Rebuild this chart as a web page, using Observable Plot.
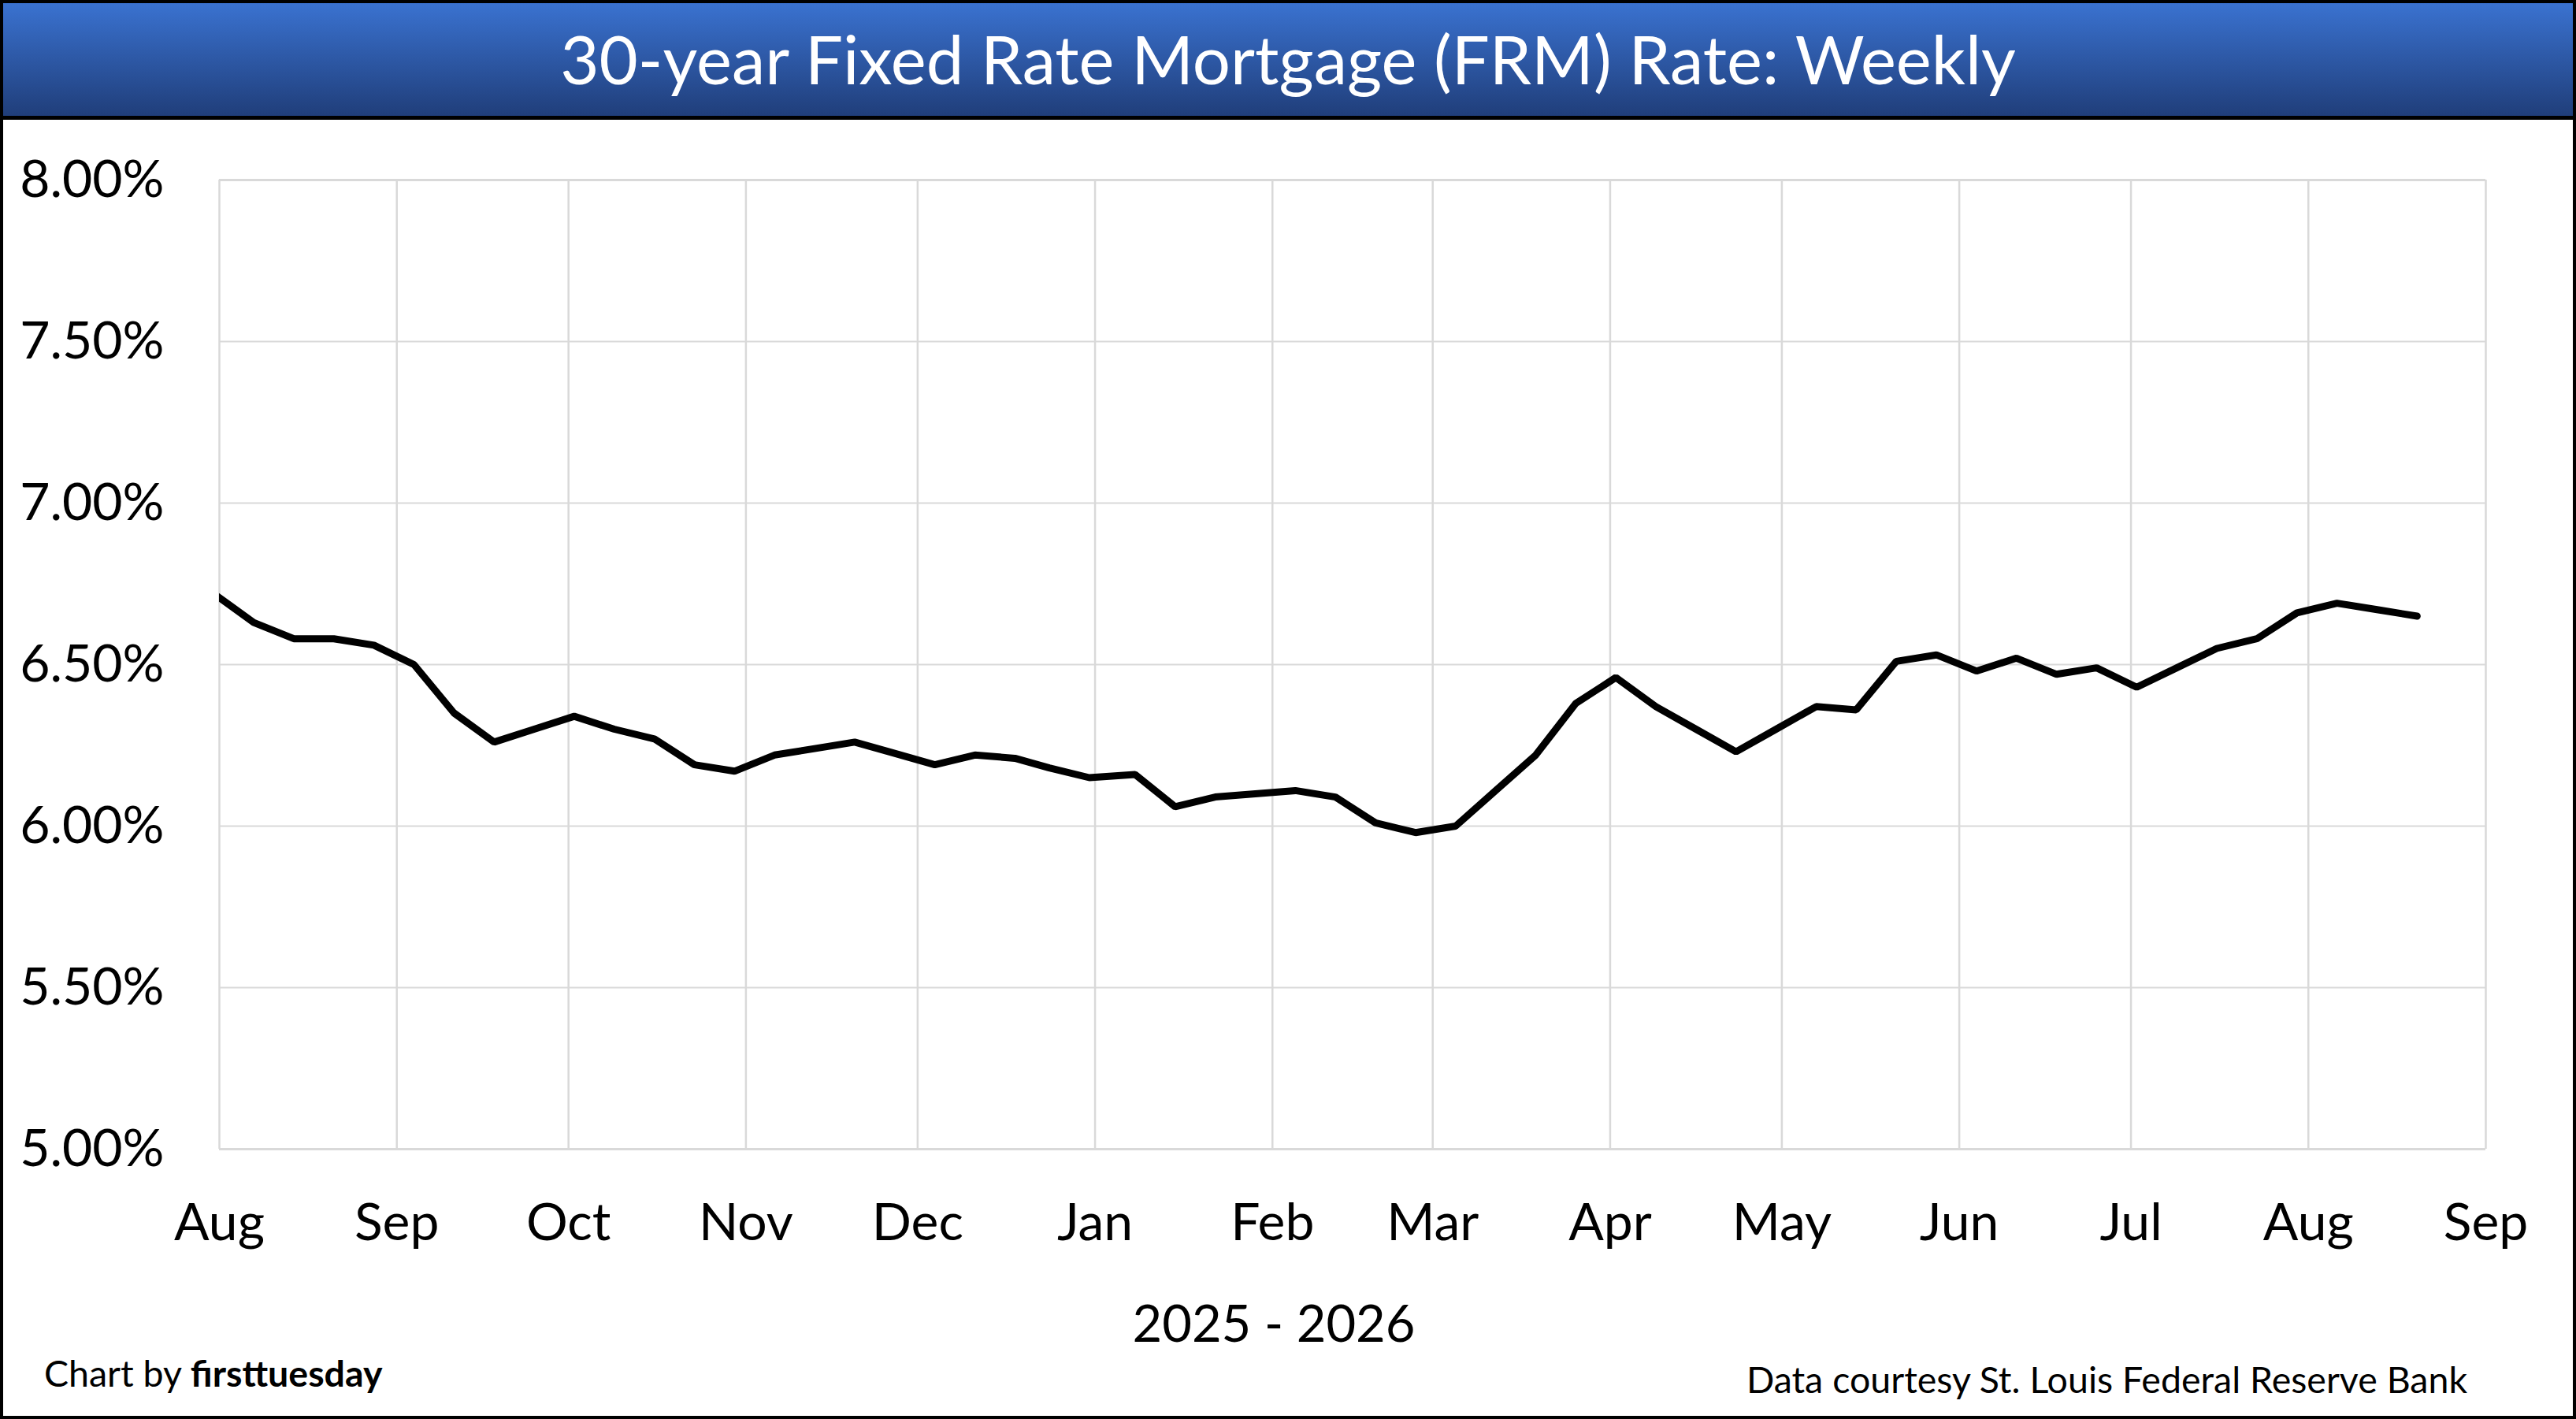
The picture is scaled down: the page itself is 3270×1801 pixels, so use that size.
<!DOCTYPE html>
<html>
<head>
<meta charset="utf-8">
<script src="https://cdn.jsdelivr.net/npm/d3@7"></script>
<script src="https://cdn.jsdelivr.net/npm/@observablehq/plot@0.6"></script>
<style>
html, body { margin: 0; padding: 0; background: #fff; }
#page { position: relative; width: 3270px; height: 1801px; overflow: hidden; background: #fff; font-family: Lato, sans-serif; }
#titlebar { position: absolute; left: 0; top: 0; width: 3270px; height: 152px; box-sizing: border-box;
  border: 4px solid #000; border-bottom: 5px solid #000; background: linear-gradient(#3a72d0, #203e7a); }
#chart { position: absolute; left: 0; top: 152px; }
#overlay { position: absolute; left: 0; top: 0; pointer-events: none; }
#frame { position: absolute; left: 0; top: 0; width: 3270px; height: 1801px; box-sizing: border-box; border: 4px solid #000; pointer-events: none; }
</style>
</head>
<body>
<div id="page">
  <div id="titlebar"></div>
  <div id="chart"></div>
  <div id="frame"></div>
</div>
<script>
// ---- Data ----
const weekDates = [
  "2025-07-31","2025-08-07","2025-08-14","2025-08-21","2025-08-28",
  "2025-09-04","2025-09-11","2025-09-18","2025-09-25",
  "2025-10-02","2025-10-09","2025-10-16","2025-10-23","2025-10-30",
  "2025-11-06","2025-11-13","2025-11-20","2025-11-26",
  "2025-12-04","2025-12-11","2025-12-18","2025-12-24","2025-12-31",
  "2026-01-08","2026-01-15","2026-01-22","2026-01-29",
  "2026-02-05","2026-02-12","2026-02-19","2026-02-26",
  "2026-03-05","2026-03-12","2026-03-19","2026-03-26",
  "2026-04-02","2026-04-09","2026-04-16","2026-04-23","2026-04-30",
  "2026-05-07","2026-05-14","2026-05-21","2026-05-28",
  "2026-06-04","2026-06-11","2026-06-18","2026-06-25",
  "2026-07-02","2026-07-09","2026-07-16","2026-07-23","2026-07-30",
  "2026-08-06","2026-08-13","2026-08-20"
];
const frmRates = [
  6.72, 6.63, 6.58, 6.58, 6.56,
  6.50, 6.35, 6.26, 6.30,
  6.34, 6.30, 6.27, 6.19, 6.17,
  6.22, 6.24, 6.26, 6.23,
  6.19, 6.22, 6.21, 6.18, 6.15,
  6.16, 6.06, 6.09, 6.10,
  6.11, 6.09, 6.01, 5.98,
  6.00, 6.11, 6.22, 6.38,
  6.46, 6.37, 6.30, 6.23, 6.30,
  6.37, 6.36, 6.51, 6.53,
  6.48, 6.52, 6.47, 6.49,
  6.43, 6.49, 6.55, 6.58, 6.66,
  6.69, 6.67, 6.65
];
const xTickDates = [
  "2025-08-01","2025-09-01","2025-10-01","2025-11-01","2025-12-01",
  "2026-01-01","2026-02-01","2026-03-01","2026-04-01","2026-05-01",
  "2026-06-01","2026-07-01","2026-08-01","2026-09-01"
];
const xTickLabels = ["Aug","Sep","Oct","Nov","Dec","Jan","Feb","Mar","Apr","May","Jun","Jul","Aug","Sep"];
const yTicks = [5.0, 5.5, 6.0, 6.5, 7.0, 7.5, 8.0];
const yDomain = [5, 8];

const titleText = "30-year Fixed Rate Mortgage (FRM) Rate: Weekly";
const xAxisTitle = "2025 - 2026";
const creditLead = "Chart by ";
const creditBrand = "firsttuesday";
const sourceText = "Data courtesy St. Louis Federal Reserve Bank";

// ---- Build ----
const rows = weekDates.map((d, i) => ({date: new Date(d), rate: frmRates[i]}));
const xTicks = xTickDates.map(d => new Date(d));
const labelByTime = new Map(xTicks.map((d, i) => [+d, xTickLabels[i]]));

const chart = Plot.plot({
  width: 3270,
  height: 1460,
  marginTop: 76,
  marginBottom: 154,
  marginLeft: 278,
  marginRight: 115,
  style: {fontFamily: "Lato, sans-serif", fontSize: "66px", color: "#000", background: "transparent", overflow: "visible"},
  x: {type: "utc", domain: [xTicks[0], xTicks[xTicks.length - 1]]},
  y: {domain: yDomain},
  marks: [
    Plot.gridX(xTicks, {stroke: "#d9d9d9", strokeOpacity: 1, strokeWidth: 2.5}),
    Plot.gridY(yTicks, {stroke: "#d9d9d9", strokeOpacity: 1, strokeWidth: 2.2}),
    Plot.ruleY([yDomain[0], yDomain[1]], {stroke: "#d9d9d9", strokeWidth: 3}),
    Plot.axisX(xTicks, {tickSize: 0, tickPadding: 69, fontSize: 66, fill: "#000",
      tickFormat: d => labelByTime.get(+d), label: null}),
    Plot.axisY(yTicks, {tickSize: 0, tickPadding: 70, fontSize: 66, fill: "#000",
      tickFormat: d => d.toFixed(2) + "%", label: null}),
    Plot.lineY(rows, {x: "date", y: "rate", stroke: "#000", strokeWidth: 9, clip: true,
      strokeLinejoin: "miter", strokeLinecap: "round"})
  ]
});
document.getElementById("chart").appendChild(chart);

// ---- Title, axis title and credits ----
const overlay = d3.select("#page").append("svg")
  .attr("id", "overlay").attr("width", 3270).attr("height", 1801)
  .style("font-family", "Lato, sans-serif");

overlay.append("text")
  .attr("x", 1635).attr("y", 107).attr("text-anchor", "middle")
  .attr("fill", "#fff").attr("font-size", 85).text(titleText);

overlay.append("text")
  .attr("x", 1617).attr("y", 1703).attr("text-anchor", "middle")
  .attr("fill", "#000").attr("font-size", 65).text(xAxisTitle);

const credit = overlay.append("text")
  .attr("x", 56).attr("y", 1760).attr("fill", "#000").attr("font-size", 46.5);
credit.append("tspan").text(creditLead);
credit.append("tspan").attr("font-weight", "bold").text(creditBrand);

overlay.append("text")
  .attr("x", 3132).attr("y", 1768).attr("text-anchor", "end")
  .attr("fill", "#000").attr("font-size", 46.5).text(sourceText);

// keep the black outer frame on top
document.getElementById("page").appendChild(document.getElementById("frame"));
</script>
</body>
</html>
